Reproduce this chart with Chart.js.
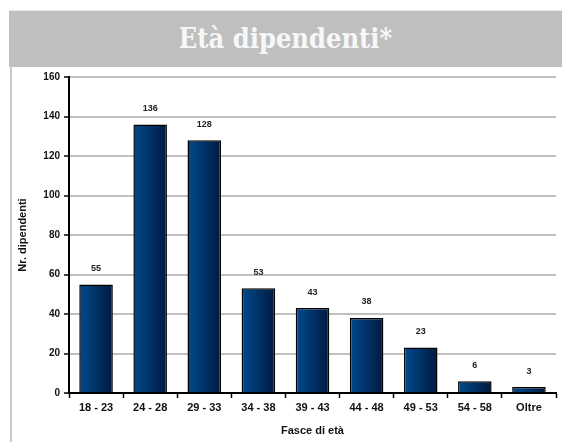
<!DOCTYPE html>
<html>
<head>
<meta charset="utf-8">
<script src="https://cdn.jsdelivr.net/npm/chart.js@4"></script>
<style>
  body { margin: 0; width: 562px; height: 442px; background: #fff; overflow: hidden; position: relative; }
  #header {
    position: absolute; left: 9px; top: 10px; width: 553px; height: 56px;
    background: #bfbfbf; border-top: 1px solid #e6e6e6;
    color: #f7f7f7; font-family: "DejaVu Serif", serif; font-weight: bold; font-size: 27px;
    font-stretch: condensed;
    text-align: center; line-height: 56px;
  }
  #leftline { position: absolute; left: 10px; top: 67px; width: 2px; height: 375px; background: #c8c8c8; }
  #wrap { position: absolute; left: 12px; top: 67px; width: 550px; height: 375px; }
</style>
</head>
<body>
<div id="header">Età dipendenti*</div>
<div id="leftline"></div>
<div id="wrap"><canvas id="myChart"></canvas></div>
<script>
// fasce di età e numero dipendenti
const fasce = ['18 - 23', '24 - 28', '29 - 33', '34 - 38', '39 - 43', '44 - 48', '49 - 53', '54 - 58', 'Oltre'];
const dipendenti = [55, 136, 128, 53, 43, 38, 23, 6, 3];
const yTicks = [0, 20, 40, 60, 80, 100, 120, 140, 160];

const xFont = { family: 'Liberation Sans', size: 11, weight: 'bold' };
const yFont = { family: 'Liberation Sans', size: 10, weight: 'bold' };

// etichette sopra le barre
const valueLabels = {
  id: 'valueLabels',
  afterDatasetsDraw(chart) {
    const ctx = chart.ctx;
    const meta = chart.getDatasetMeta(0);
    ctx.save();
    ctx.font = 'bold 9px "Liberation Sans"';
    ctx.fillStyle = '#222';
    ctx.textAlign = 'center';
    ctx.textBaseline = 'middle';
    meta.data.forEach((bar, i) => {
      ctx.fillText(dipendenti[i], bar.x, bar.y - 16);
    });
    ctx.restore();
  }
};

function barColor(c) {
  const chart = c.chart;
  const xs = chart.scales.x;
  if (!xs || c.dataIndex === undefined) return '#00336b';
  const cx = xs.getPixelForValue(c.dataIndex);
  const w = (xs.width / fasce.length) * 0.62;
  if (!isFinite(cx) || !isFinite(w) || w <= 0) return '#00336b';
  const g = chart.ctx.createLinearGradient(cx - w / 2, 0, cx + w / 2, 0);
  g.addColorStop(0, '#004a8f');
  g.addColorStop(1, '#001a3f');
  return g;
}

const data = {
  labels: fasce,
  datasets: [{
    label: 'Nr. dipendenti',
    data: dipendenti,
    backgroundColor: barColor,
    borderColor: '#000',
    borderWidth: 1.5,
    borderSkipped: 'bottom',
    barPercentage: 0.62,
    categoryPercentage: 1
  }]
};

const config = {
  type: 'bar',
  data: data,
  options: {
    responsive: true,
    maintainAspectRatio: false,
    animation: false,
    layout: { padding: { top: 9, right: 6, left: 4, bottom: 0 } },
    plugins: { legend: { display: false }, tooltip: { enabled: false } },
    scales: {
      x: {
        afterFit(scale) { scale.height = 49; },
        grid: { display: true, drawOnChartArea: false, drawTicks: true, tickLength: 5, tickColor: '#000', tickWidth: 1.5, offset: true },
        border: { color: '#000', width: 2 },
        ticks: { color: '#111', font: xFont, padding: 3 },
        title: { display: true, text: 'Fasce di età', color: '#111', font: xFont, padding: { top: 19 } }
      },
      y: {
        min: 0,
        max: 160,
        afterFit(scale) { scale.width = 53; },
        afterBuildTicks(scale) { scale.ticks = yTicks.map(v => ({ value: v })); },
        grid: { color: '#c0c0c0', lineWidth: 2, drawTicks: true, tickLength: 5, tickColor: '#000', tickWidth: 1.5 },
        border: { color: '#000', width: 2 },
        ticks: { color: '#111', font: yFont, padding: 4 },
        title: { display: true, text: 'Nr. dipendenti', color: '#111', font: xFont, padding: 0 }
      }
    }
  },
  plugins: [valueLabels]
};

const myChart = new Chart(document.getElementById('myChart'), config);
</script>
</body>
</html>
